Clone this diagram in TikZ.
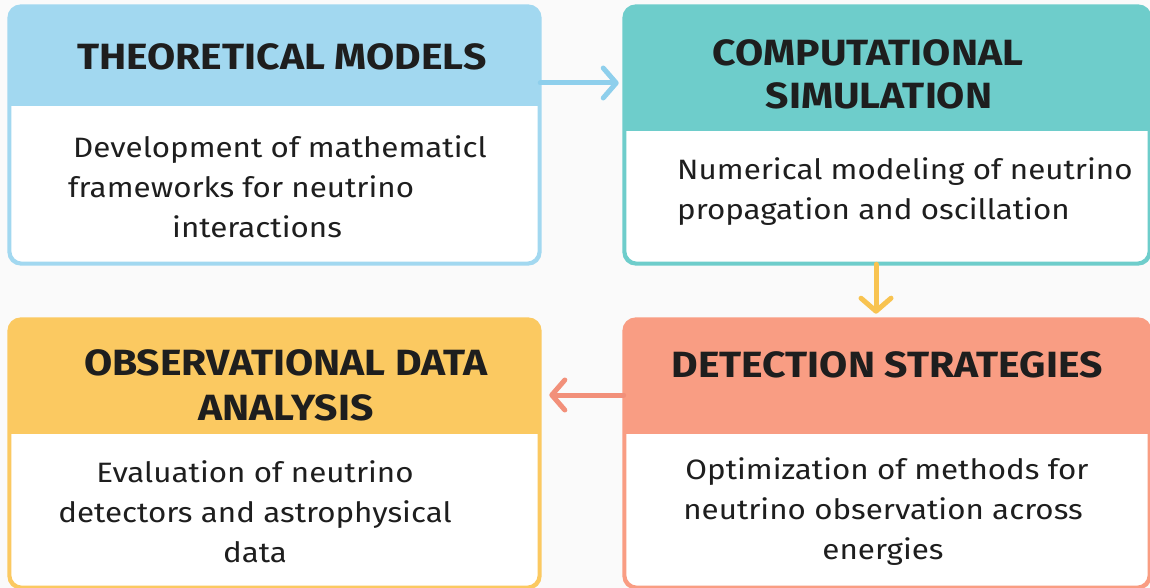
\documentclass[tikz,border=0pt]{standalone}
\usepackage{fontspec}
\setmainfont{Fira Sans}[FakeStretch=1.12]
\usetikzlibrary{arrows.meta}

\definecolor{bg}{HTML}{FAFAFA}
\definecolor{cblue}{HTML}{A2D8F0}
\definecolor{cteal}{HTML}{6ECDCB}
\definecolor{cyellow}{HTML}{FBC961}
\definecolor{csalmon}{HTML}{F99D83}
\definecolor{ablue}{HTML}{8ECFEC}
\definecolor{ayellow}{HTML}{F8C350}
\definecolor{asalmon}{HTML}{F2907A}
\definecolor{ink}{HTML}{1E1E1E}

\tikzset{
  card/.style={rectangle, rounded corners=12pt, line width=2.6pt, fill=white, inner sep=0pt},
  title/.style={font=\bfseries\fontsize{36.5}{45}\selectfont, text=ink, align=center, inner sep=0pt},
  body/.style={font=\fontsize{28}{40}\selectfont, text=ink, inner sep=0pt},
  flow/.style={line width=5pt, line cap=round, -{Straight Barb[round, length=13pt, width=30pt]}},
}

% one card: #1 name, #2 colour, #3 centre, #4 width, #5 height, #6 header depth
\newcommand{\cardbox}[6]{%
  \node[card, draw=#2, minimum width=#4, minimum height=#5] (#1) at #3 {};
  \begin{scope}
    \clip[rounded corners=12pt] (#1.north west) rectangle (#1.south east);
    \fill[#2] (#1.north west) rectangle ([yshift=-#6]#1.north east);
  \end{scope}
  \draw[#2, rounded corners=12pt, line width=2.6pt] (#1.north west) rectangle (#1.south east);
}

\begin{document}
\begin{tikzpicture}[x=1pt, y=-1pt]
  \path[use as bounding box, fill=bg] (0,0) rectangle (1150,588);

  \cardbox{b1}{cblue}{(274.5,135)}{529pt}{256pt}{100pt}
  \cardbox{b2}{cteal}{(887,135)}{524pt}{256pt}{125pt}
  \cardbox{b3}{cyellow}{(274.5,453.5)}{529pt}{267pt}{115pt}
  \cardbox{b4}{csalmon}{(887,453.5)}{524pt}{267pt}{115pt}

  % headings
  \node[title] (t1) at (282,57) {THEORETICAL MODELS};
  \node[title] (t2) at (868,74.5) {COMPUTATIONAL\\[-2pt]\hspace*{22pt}SIMULATION};
  \node[title] (t3) at (286,385) {OBSERVATIONAL DATA\\ANALYSIS};
  \node[title] (t4) at (887,365) {DETECTION STRATEGIES};

  % descriptions
  \node[body, align=left, anchor=west] (d1) at (68,187)
    {\hspace*{5pt}Development of mathematicl\\frameworks for neutrino\\\hspace*{104pt}interactions};
  \node[body, align=left, anchor=west] (d2) at (677,191.5)
    {Numerical modeling of neutrino\\propagation and oscillation};
  \node[body, align=center] (d3) at (255,512)
    {Evaluation of neutrino\\detectors and astrophysical\\data};
  \node[body, align=center] (d4) at (883,512)
    {\hspace*{8pt}Optimization of methods for\\neutrino observation across\\energies};

  % flow between the stages
  \draw[flow, ablue, shorten >=5pt] (b1.east |- 0,83) -- (b2.west |- 0,83);
  \draw[flow, ayellow, shorten >=5pt] (b2.south -| 876,0) -- (b4.north -| 876,0);
  \draw[flow, asalmon, shorten >=9pt] (b4.west |- 0,395) -- (b3.east |- 0,395);
\end{tikzpicture}
\end{document}
